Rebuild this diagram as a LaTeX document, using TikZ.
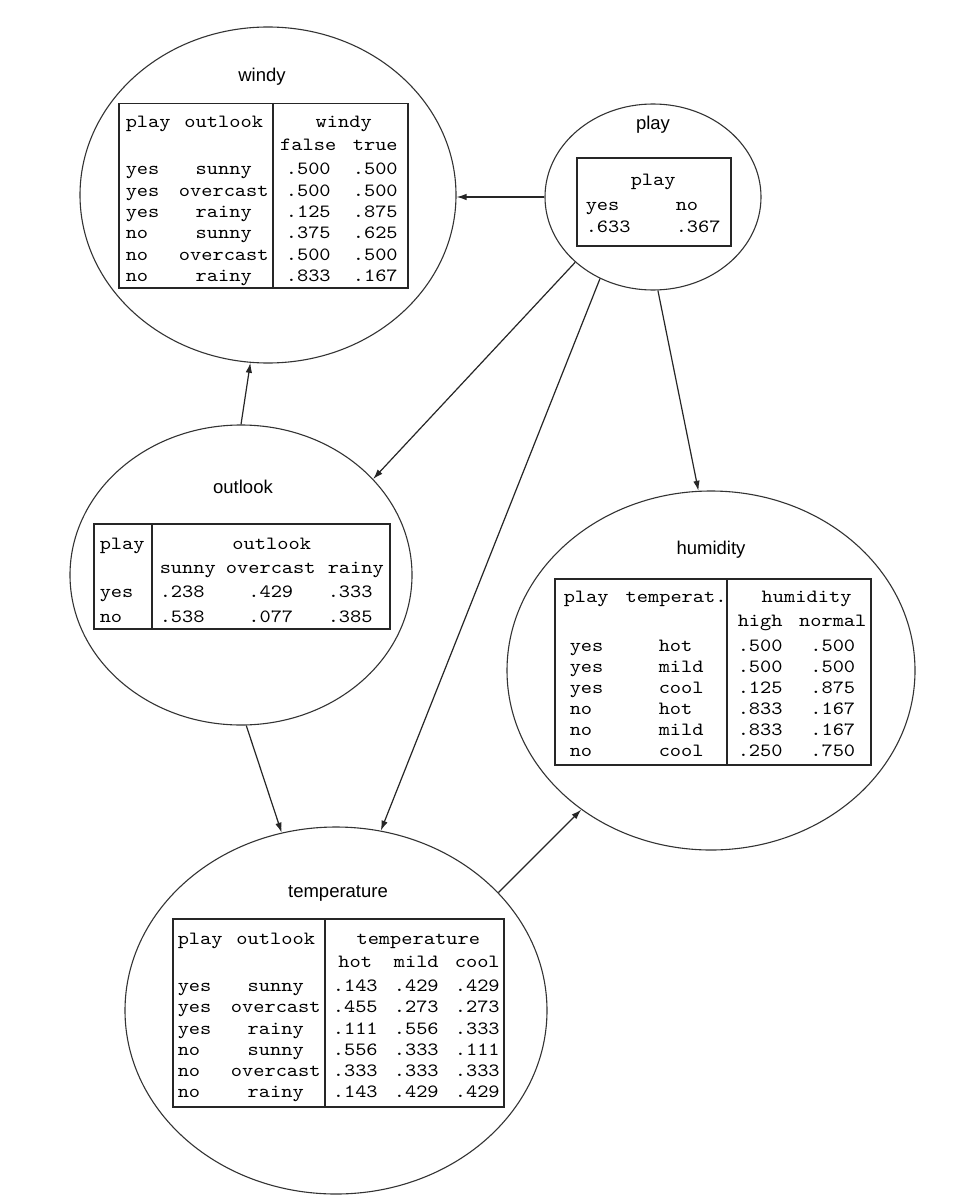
\documentclass[tikz,border=0pt]{standalone}
\usepackage{fontspec}
\setmainfont{Liberation Sans}
\setmonofont{lmmono10-regular}[Extension=.otf, FakeStretch=1.143]
\usepackage{array}
\usetikzlibrary{shapes.geometric,arrows.meta}

% caption font for the node names, typewriter font for the probability tables
\newcommand\cptnamefont{\fontsize{18.5}{22}\selectfont\rmfamily}
\newcommand\cpttabfont{\fontsize{18.7}{21.4}\selectfont\ttfamily}

\tikzset{
  bnode/.style={draw=black!80, line width=1.1pt, ellipse, inner sep=0pt},
  bname/.style={anchor=base, inner sep=0pt, font=\cptnamefont},
  cpt/.style={draw=black!85, line width=1.5pt, inner sep=0pt, anchor=north west, font=\cpttabfont},
  cptdiv/.style={draw=black!85, line width=1.4pt},
  link/.style={draw=black!85, line width=1.2pt, -{Latex[length=10pt,width=6.5pt]}},
}

\begin{document}
\begin{tikzpicture}[x=1pt,y=-1pt]
\fill[white] (0,0) rectangle (976,1196);
\useasboundingbox (0,0) rectangle (976,1196);

% ---- network nodes ----
\node[bnode, minimum width=376pt, minimum height=336pt] (windy) at (268,195) {};
\node[bnode, minimum width=216pt, minimum height=186pt] (play) at (653,197) {};
\node[bnode, minimum width=342pt, minimum height=300pt] (outlook) at (241,575) {};
\node[bnode, minimum width=408pt, minimum height=359pt] (humidity) at (711,670.5) {};
\node[bnode, minimum width=422pt, minimum height=367pt] (temperature) at (336,1010.5) {};

% ---- names ----
\node[bname] (windyname) at (262,82) {windy};
\node[bname] (playname) at (653,130) {play};
\node[bname] (outlookname) at (243,493) {outlook};
\node[bname] (humidityname) at (711,554) {humidity};
\node[bname] (temperaturename) at (338,897) {temperature};

% ---- windy table ----
\node[cpt] (windycpt) at (118,103) {%
\begin{tabular}{@{\hspace{7pt}}w{l}{45pt}@{\hspace{8pt}}w{c}{90pt}@{\hspace{11pt}}w{c}{57pt}@{\hspace{16pt}}w{c}{45pt}@{\hspace{10pt}}}
\rule{0pt}{24pt}play & outlook & \multicolumn{2}{@{}c@{}}{windy} \\[1.6pt]
 & & false & true \\[2.6pt]
yes & sunny & .500 & .500 \\
yes & overcast & .500 & .500 \\
yes & rainy & .125 & .875 \\
no & sunny & .375 & .625 \\
no & overcast & .500 & .500 \\
no & rainy & .833 & .167
\end{tabular}};
\draw[cptdiv] ([xshift=155pt]windycpt.north west) -- ([xshift=155pt]windycpt.south west);

% ---- play table ----
\node[cpt] (playcpt) at (576,157) {%
\begin{tabular}{@{\hspace{9pt}}w{l}{45pt}@{\hspace{45pt}}w{l}{45pt}@{\hspace{10pt}}}
\multicolumn{2}{@{\hspace{54pt}}l@{}}{\rule{0pt}{28pt}play} \\[3.6pt]
yes & no \\[0.6pt]
.633 & .367\rule[-13pt]{0pt}{13pt}
\end{tabular}};

% ---- outlook table ----
\node[cpt] (outlookcpt) at (93,523) {%
\begin{tabular}{@{\hspace{6pt}}w{l}{45pt}@{\hspace{15pt}}w{l}{56pt}@{\hspace{10pt}}w{c}{90pt}@{\hspace{12pt}}w{l}{56pt}@{\hspace{6pt}}}
\rule{0pt}{26pt}play & \multicolumn{3}{@{}c@{\hspace{6pt}}}{outlook} \\[2.6pt]
 & sunny & overcast & rainy \\[2.6pt]
yes & .238 & .429 & .333 \\[3.6pt]
no & .538 & .077 & .385
\end{tabular}};
\draw[cptdiv] ([xshift=59pt]outlookcpt.north west) -- ([xshift=59pt]outlookcpt.south west);

% ---- humidity table ----
\node[cpt] (humiditycpt) at (554,578) {%
\begin{tabular}{@{\hspace{15pt}}w{l}{34pt}@{\hspace{55pt}}w{l}{45pt}@{\hspace{34pt}}w{l}{45pt}@{\hspace{16pt}}w{c}{68pt}@{\hspace{4pt}}}
\multicolumn{2}{@{\hspace{9pt}}l@{}}{\rule{0pt}{24pt}play\hspace{17pt}temperat.} & \multicolumn{2}{@{\hspace{24pt}}l@{}}{humidity} \\[2.6pt]
 & & high & normal \\[3.6pt]
yes & hot & .500 & .500 \\[-0.5pt]
yes & mild & .500 & .500 \\[-0.5pt]
yes & cool & .125 & .875 \\[-0.5pt]
no & hot & .833 & .167 \\[-0.5pt]
no & mild & .833 & .167 \\[-0.5pt]
no & cool & .250 & .750\rule[-8.5pt]{0pt}{8.5pt}
\end{tabular}};
\draw[cptdiv] ([xshift=173pt]humiditycpt.north west) -- ([xshift=173pt]humiditycpt.south west);

% ---- temperature table ----
\node[cpt] (temperaturecpt) at (172,918) {%
\begin{tabular}{@{\hspace{5pt}}w{l}{45pt}@{\hspace{8pt}}w{c}{90pt}@{\hspace{12pt}}w{c}{45pt}@{\hspace{16pt}}w{c}{45pt}@{\hspace{16pt}}w{c}{45pt}@{\hspace{4pt}}}
\rule{0pt}{26pt}play & outlook & \multicolumn{3}{@{}c@{}}{temperature} \\[1.6pt]
 & & hot & mild & cool \\[2.6pt]
yes & sunny & .143 & .429 & .429 \\[-0.2pt]
yes & overcast & .455 & .273 & .273 \\[-0.2pt]
yes & rainy & .111 & .556 & .333 \\[-0.2pt]
no & sunny & .556 & .333 & .111 \\[-0.2pt]
no & overcast & .333 & .333 & .333 \\[-0.2pt]
no & rainy & .143 & .429 & .429\rule[-9pt]{0pt}{9pt}
\end{tabular}};
\draw[cptdiv] ([xshift=153pt]temperaturecpt.north west) -- ([xshift=153pt]temperaturecpt.south west);

% ---- arcs of the network ----
\draw[link] (play.west) -- (play.west -| windy.east);
\draw[link] (play.220.7) -- (outlook.36.7);
\draw[link] (play.237.7) -- (temperature.76.9);
\draw[link] (play.273) -- (humidity.94.5);
\draw[link] (outlook.90) -- (windy.264.6);
\draw[link] (outlook.272.7) -- (temperature.107.4);
\draw[link] (temperature.36.6) -- (humidity.227.8);
\end{tikzpicture}
\end{document}
